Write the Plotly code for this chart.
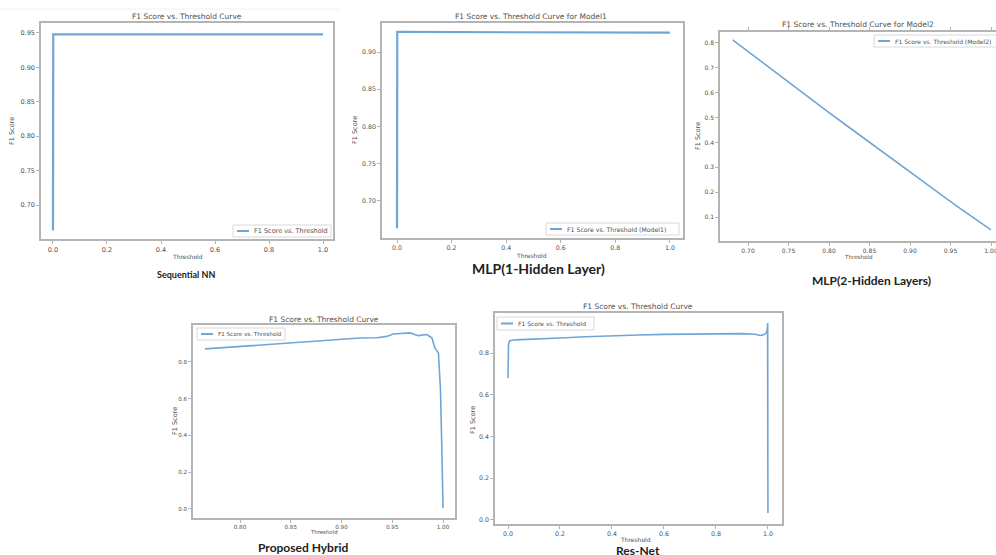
import plotly.graph_objects as go

W, H = 996, 555

# ---------------- data ----------------
# Panel 1: Sequential NN
seq_x = [0.0, 0.0, 0.001, 0.01, 0.1, 0.3, 0.5, 0.7, 0.9, 1.0]
seq_y = [0.663, 0.900, 0.948, 0.948, 0.948, 0.948, 0.948, 0.948, 0.948, 0.948]

# Panel 2: MLP (1 hidden layer)
mlp1_x = [0.0, 0.0, 0.001, 0.01, 0.1, 0.3, 0.5, 0.7, 0.9, 1.0]
mlp1_y = [0.663, 0.880, 0.927, 0.927, 0.927, 0.927, 0.927, 0.926, 0.926, 0.926]

# Panel 3: MLP (2 hidden layers)
mlp2_x = [0.681, 0.70, 0.72, 0.74, 0.76, 0.78, 0.80, 0.82, 0.84, 0.86,
          0.88, 0.90, 0.92, 0.94, 0.96, 0.98, 1.00]
mlp2_y = [0.812, 0.765, 0.716, 0.667, 0.618, 0.570, 0.520, 0.472, 0.424, 0.376,
          0.327, 0.280, 0.233, 0.186, 0.139, 0.093, 0.048]

# Panel 4: Proposed Hybrid
hyb_x = [0.7655, 0.790, 0.8197, 0.8525, 0.8854, 0.918, 0.935, 0.9445, 0.951,
         0.9675, 0.9757, 0.984, 0.989, 0.992, 0.9955, 0.9975, 0.999, 1.0]
hyb_y = [0.871, 0.880, 0.894, 0.903, 0.916, 0.930, 0.932, 0.939, 0.952,
         0.958, 0.943, 0.949, 0.931, 0.876, 0.849, 0.649, 0.286, 0.005]

# Panel 5: Res-Net
res_x = [0.0, 0.002, 0.006, 0.02, 0.05, 0.1, 0.2, 0.3, 0.4, 0.5, 0.6, 0.7,
         0.8, 0.9, 0.95, 0.97, 0.985, 0.995, 0.998, 0.999, 0.9995, 0.9984,
         0.9998, 0.9986, 1.0, 0.9988, 0.9999]
res_y = [0.680, 0.840, 0.858, 0.862, 0.864, 0.866, 0.872, 0.878, 0.883, 0.886,
         0.889, 0.891, 0.893, 0.893, 0.890, 0.884, 0.888, 0.898, 0.920, 0.944,
         0.300, 0.900, 0.100, 0.850, 0.033, 0.700, 0.060]

titles = ["F1 Score vs. Threshold Curve",
          "F1 Score vs. Threshold Curve for Model1",
          "F1 Score vs. Threshold Curve for Model2",
          "F1 Score vs. Threshold Curve",
          "F1 Score vs. Threshold Curve"]
legend_names = ["F1 Score vs. Threshold",
                "F1 Score vs. Threshold (Model1)",
                "F1 Score vs. Threshold (Model2)",
                "F1 Score vs. Threshold",
                "F1 Score vs. Threshold"]
captions = ["Sequential NN", "MLP(1-Hidden Layer)", "MLP(2-Hidden Layers)",
            "Proposed Hybrid", "Res-Net"]

x_ticks = [[0.0, 0.2, 0.4, 0.6, 0.8, 1.0],
           [0.0, 0.2, 0.4, 0.6, 0.8, 1.0],
           [0.70, 0.75, 0.80, 0.85, 0.90, 0.95, 1.00],
           [0.80, 0.85, 0.90, 0.95, 1.00],
           [0.0, 0.2, 0.4, 0.6, 0.8, 1.0]]
y_ticks = [[0.65, 0.70, 0.75, 0.80, 0.85, 0.90, 0.95],
           [0.70, 0.75, 0.80, 0.85, 0.90],
           [0.1, 0.2, 0.3, 0.4, 0.5, 0.6, 0.7, 0.8],
           [0.0, 0.2, 0.4, 0.6, 0.8],
           [0.0, 0.2, 0.4, 0.6, 0.8]]
x_fmt = [".1f", ".1f", ".2f", ".2f", ".1f"]
y_fmt = [".2f", ".2f", ".1f", ".1f", ".1f"]

series = [(seq_x, seq_y), (mlp1_x, mlp1_y), (mlp2_x, mlp2_y),
          (hyb_x, hyb_y), (res_x, res_y)]

# ---------------- layout geometry (pixels) ----------------
boxes = [(41, 333, 23, 239), (382, 683, 23, 238), (720, 1003, 32, 241),
         (193, 455, 325, 518), (495, 782, 313, 524)]
x_ranges = [[-0.0444, 1.037], [-0.055, 1.048], [0.6654, 1.0148],
            [0.7537, 1.0118], [-0.05, 1.054]]
y_ranges = [[0.6506, 0.9645], [0.650, 0.939], [0.0035, 0.844],
            [-0.049, 1.001], [-0.0192, 0.9916]]
tick_size = [6.5, 6.3, 6.0, 5.6, 6.3]
title_pos = [(187, 16), (531, 16), (858, 25), (324, 319), (638, 306)]
xlabel_pos = [(187, 257), (531, 256), (858, 257), (324, 532), (635, 539)]
xlabel_size = [6.0, 6.0, 5.6, 5.4, 6.0]
ylabel_pos = [(12, 131), (355, 130), (698, 136), (175, 421), (473, 420)]
caption_pos = [(186, 274, 9), (538, 269, 14), (871, 280, 12), (303, 547, 12),
               (638, 550, 12)]
# legend box: left, right, top, bottom, text size
legend_box = [(233, 331, 225, 237, 6.5), (546, 679, 223, 235, 6.2),
              (874, 1003, 35, 47, 6.0), (197, 285, 328, 340, 5.6),
              (497, 594, 317, 330, 6.0)]

LINE = "#6ea6d6"
SPINE = "#b4b4b4"
TXT = "#505050"
FONT = "DejaVu Sans"


def px(x):
    return x / W


def py(y):
    return 1 - y / H


fig = go.Figure()
annotations = []
shapes = [dict(type="line", xref="paper", yref="paper",
               x0=0, x1=px(340), y0=py(9), y1=py(9),
               line=dict(color="#f2f2f2", width=1), layer="below")]
layout_extra = {}

for i in range(5):
    n = "" if i == 0 else str(i + 1)
    xs, ys = series[i]
    fig.add_trace(go.Scatter(
        x=xs, y=ys, mode="lines", name=legend_names[i],
        line=dict(color=LINE, width=2.2 if i in (0, 1) else 1.6),
        xaxis="x" + n, yaxis="y" + n, showlegend=False))
    l, r, t, b = boxes[i]
    ax_common = dict(showgrid=False, zeroline=False, showline=True,
                     linecolor=SPINE, linewidth=1.5, mirror=True,
                     ticks="outside", ticklen=3, tickcolor=SPINE,
                     ticklabeloverflow="allow",
                     tickfont=dict(family=FONT, size=tick_size[i], color=TXT))
    dom_r = min(px(r), 1.0)
    layout_extra["xaxis" + n] = dict(
        ax_common, domain=[px(l), dom_r], range=x_ranges[i],
        tickvals=x_ticks[i], tickformat=x_fmt[i], anchor="y" + n)
    if i == 2:
        # panel is cut by the picture's right edge: keep scale consistent
        frac = (W - l) / (r - l)
        x0, x1 = x_ranges[i]
        layout_extra["xaxis" + n]["range"] = [x0, x0 + (x1 - x0) * frac]
        layout_extra["xaxis" + n]["mirror"] = "ticks"
    layout_extra["yaxis" + n] = dict(
        ax_common, domain=[py(b), py(t)], range=y_ranges[i],
        tickvals=y_ticks[i], tickformat=y_fmt[i], anchor="x" + n)
    if i == 2:
        layout_extra["yaxis" + n]["mirror"] = False

    # manual matplotlib-style legend
    bl, br, bt, bb, fs = legend_box[i]
    shapes.append(dict(type="rect", xref="paper", yref="paper",
                       x0=px(bl), x1=px(br), y0=py(bb), y1=py(bt),
                       line=dict(color="#d8d8d8", width=1),
                       fillcolor="rgba(255,255,255,0.85)", layer="above"))
    ym = (bt + bb) / 2
    shapes.append(dict(type="line", xref="paper", yref="paper",
                       x0=px(bl + 4), x1=px(bl + 16), y0=py(ym), y1=py(ym),
                       line=dict(color=LINE, width=2), layer="above"))
    annotations.append(dict(x=px(bl + 19), y=py(ym), xref="paper", yref="paper",
                            xanchor="left", yanchor="middle",
                            text=legend_names[i], showarrow=False,
                            font=dict(family=FONT, size=fs, color=TXT)))

    tx, ty = title_pos[i]
    annotations.append(dict(x=px(tx), y=py(ty), xref="paper", yref="paper",
                            xanchor="center", yanchor="middle",
                            text=titles[i], showarrow=False,
                            font=dict(family=FONT, size=7.5, color=TXT)))
    xx, xy = xlabel_pos[i]
    annotations.append(dict(x=px(xx), y=py(xy), xref="paper", yref="paper",
                            xanchor="center", yanchor="middle",
                            text="Threshold", showarrow=False,
                            font=dict(family=FONT, size=xlabel_size[i], color=TXT)))
    yx, yy = ylabel_pos[i]
    annotations.append(dict(x=px(yx), y=py(yy), xref="paper", yref="paper",
                            xanchor="center", yanchor="middle",
                            text="F1 Score", showarrow=False, textangle=-90,
                            font=dict(family=FONT, size=6.5, color=TXT)))
    cx, cy, cs = caption_pos[i]
    annotations.append(dict(x=px(cx), y=py(cy), xref="paper", yref="paper",
                            xanchor="center", yanchor="middle",
                            text="<b>" + captions[i] + "</b>", showarrow=False,
                            font=dict(family="Lato", size=cs, color="#222222")))

fig.update_layout(
    width=W, height=H,
    margin=dict(l=0, r=0, t=0, b=0, pad=0, autoexpand=False),
    paper_bgcolor="white", plot_bgcolor="white",
    annotations=annotations, shapes=shapes, **layout_extra)

fig.write_html("out.html",
               config={"displayModeBar": False},
               post_script="document.body.style.margin='0px';"
                           "document.body.style.overflow='hidden';")
